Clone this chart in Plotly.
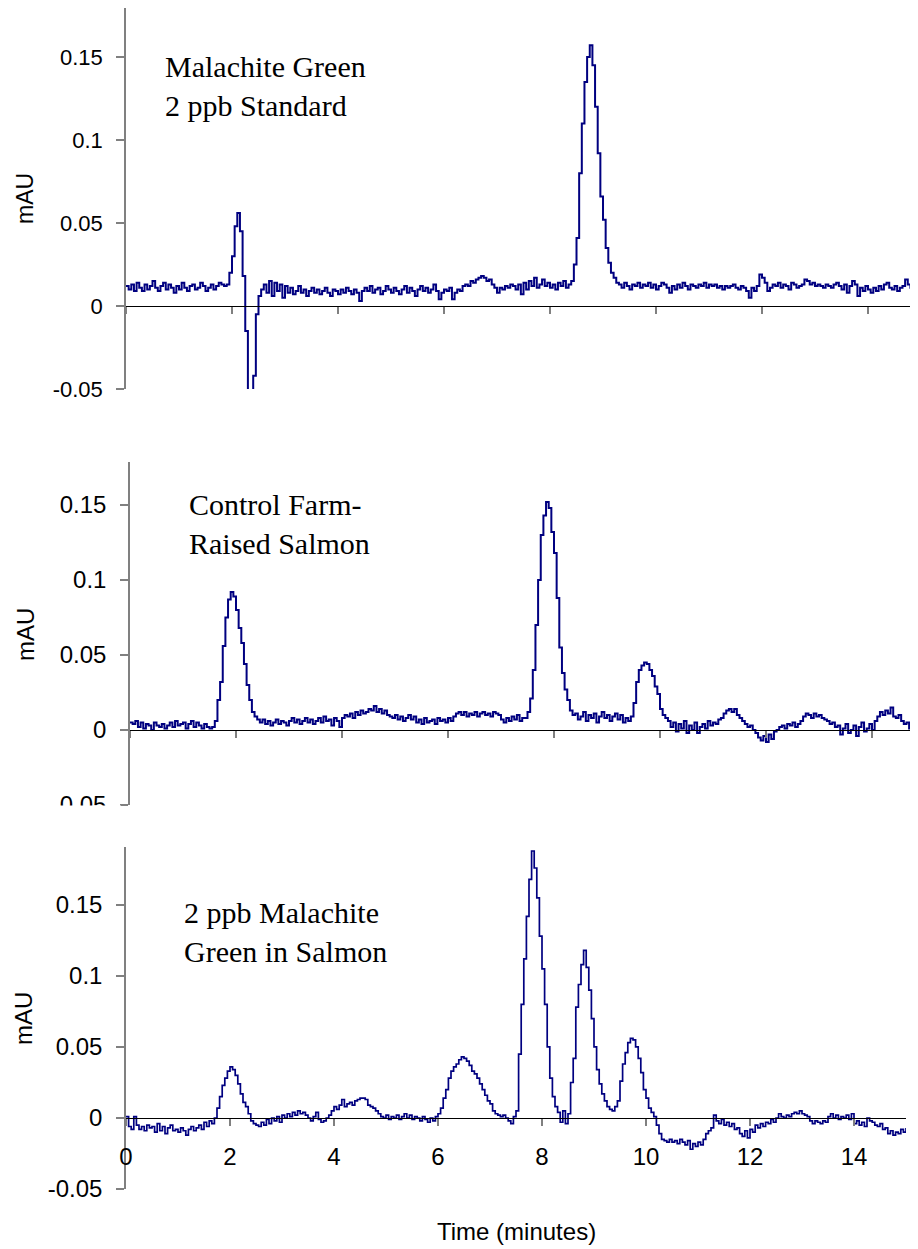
import plotly.graph_objects as go

# ---------------- data (absorbance, in 1/1000 mAU, sampled every 0.05 min) ----------------
SAMPLE_STEP_MIN = 0.05
time_min = [round(i * SAMPLE_STEP_MIN, 2) for i in range(301)]

standard_milli = [
    # t 0.00-1.80 baseline
    12, 10, 13, 9, 14, 11, 9, 13, 10, 12,
    15, 11, 9, 12, 14, 10, 13, 11, 8, 12,
    10, 14, 11, 9, 12, 13, 10, 11, 14, 12,
    9, 11, 13, 10, 12, 14, 13,
    # t 1.85-2.55 solvent front (peak + negative dip)
    12, 13, 20, 30, 48, 56, 45, 18, -15, -60, -65, -42, -5, 6, 10,
    # t 2.60-8.35 baseline
    13, 8, 15, 6, 14, 9, 13, 5, 12,
    8, 11, 7, 9, 12, 8, 10, 6, 9, 11,
    8, 10, 7, 9, 11, 8, 6, 10, 9, 7,
    10, 8, 11, 9, 7, 10, 8, 3, 9, 11,
    9, 12, 8, 10, 11, 7, 9, 12, 10, 8,
    11, 9, 7, 10, 12, 8, 11, 9, 6, 10,
    12, 9, 11, 8, 10, 13, 9, 4, 8, 10,
    9, 11, 4, 8, 10, 9, 12, 13, 12, 15,
    14, 16, 17, 18, 17, 15, 16, 13, 11, 8,
    11, 10, 12, 11, 13, 12, 10, 13, 7, 14,
    10, 15, 12, 17, 11, 13, 16, 12, 14, 11,
    13, 10, 14, 12, 15, 11, 13,
    # t 8.40-9.25 malachite green peak
    15, 25, 41, 80, 110, 135, 150, 157, 145, 120, 92, 66, 52, 35, 26, 20, 17, 14,
    # t 9.30-15.00 baseline
    13, 11, 14, 12, 10, 13, 12, 14, 11, 13,
    12, 14, 11, 13, 10, 12, 14, 13, 11, 8,
    12, 10, 13, 11, 14, 12, 10, 13, 12, 11,
    13, 12, 14, 11, 13, 12, 13, 11, 12, 10,
    12, 11, 12, 13, 11, 10, 12, 11, 9, 5,
    11, 9, 12, 19, 17, 14, 9, 11, 13, 12,
    14, 11, 13, 12, 10, 14, 13, 11, 12, 13,
    16, 15, 13, 14, 12, 13, 12, 11, 13, 12,
    11, 13, 14, 12, 10, 13, 8, 12, 15, 13,
    6, 11, 9, 12, 10, 8, 11, 9, 12, 10,
    13, 14, 11, 10, 12, 9, 11, 12, 16, 13,
    11, 10, 9, 8, 7,
]

control_milli = [
    # t 0.00-1.50 baseline
    5, 4, 6, 2, 5, 1, 4, 3, 0, 5,
    3, 2, 4, 1, 3, 5, 2, 6, 3, 4,
    5, 1, 4, 6, 2, 5, 3, 1, 4, 2,
    1,
    # t 1.55-2.40 peak
    2, 6, 20, 32, 56, 75, 87, 92, 89, 80, 68, 58, 44, 30, 20, 12, 9, 7,
    # t 2.45-7.45 baseline
    5, 7, 4, 6, 3, 5, 7, 4, 6, 5,
    3, 6, 8, 5, 7, 4, 6, 8, 5, 7,
    4, 6, 8, 5, 9, 6, 7, 3, 8, 6,
    2, 8, 10, 9, 11, 8, 12, 10, 13, 11,
    12, 14, 13, 16, 12, 14, 11, 13, 10, 9,
    8, 10, 7, 9, 6, 8, 10, 7, 9, 5,
    7, 4, 8, 5, 6, 7, 4, 8, 6, 7,
    5, 8, 6, 9, 11, 12, 10, 12, 9, 11,
    10, 12, 9, 11, 12, 10, 11, 9, 12, 11,
    10, 7, 5, 8, 6, 9, 7, 10, 6, 8,
    8,
    # t 7.50-8.35 peak
    12, 21, 40, 70, 100, 130, 143, 152, 148, 132, 118, 88, 55, 38, 27, 20, 13, 10,
    # t 8.40-9.45 baseline
    11, 7, 9, 12, 6, 10, 8, 11, 5, 9, 12, 8, 10, 6, 9, 11, 7, 10, 5, 8, 6, 9,
    # t 9.50-10.10 peak
    18, 32, 40, 43, 45, 44, 40, 36, 29, 24, 14, 10, 8,
    # t 10.15-15.00 baseline
    6, 2, 5, -1, 4, 1, 6, -2, 3, 0,
    5, -2, 2, 4, 1, 6, 3, 5, 4, 7,
    8, 11, 13, 14, 12, 14, 10, 8, 6, 4,
    2, 3, 0, -2, -5, -7, -4, -8, -3, -6,
    -1, 0, 2, 3, 1, 4, 3, 5, 2, 4,
    6, 9, 11, 10, 8, 11, 9, 10, 8, 7,
    6, 4, 5, 2, 3, -3, 1, 4, -2, 0,
    3, -4, 2, 5, -1, 1, 4, 0, 6, 9,
    12, 10, 13, 11, 15, 9, 8, 10, 6, 4,
    5, 1, 4, -3, 2, -1, 3, 0,
]

spiked_milli = [
    # t 0.00-1.70 baseline
    1, -6, -8, 1, -5, -8, -6, -9, -5, -7,
    -6, -10, -4, -9, -6, -11, -7, -5, -9, -8,
    -10, -7, -9, -12, -8, -6, -9, -7, -5, -8,
    -3, -6, -2, -4, 0,
    # t 1.75-2.50 peak
    7, 15, 23, 28, 33, 36, 34, 30, 24, 17, 11, 8, 3, -2, -4, -5,
    # t 2.55-3.85 baseline
    -6, -3, -5, -1, -4, 0, -2, 1, -3, 2,
    0, 3, 1, 4, 2, 5, 3, 4, 2, 0,
    -2, 1, 4, -1, -3, -2, 0,
    # t 3.90-4.90 small bump
    2, 5, 8, 6, 9, 13, 8, 10, 11, 9, 12, 13, 14, 14, 13, 9, 8, 7, 5, 3, 1,
    # t 4.95-5.95 baseline
    0, 2, -1, 1, 0, 2, -1, 1, 3, 0, 2, -1, 1, 0, -2, 1, -1, -3, 0, -2, 1,
    # t 6.00-7.45 broad peak
    3, 7, 14, 20, 28, 33, 36, 38, 41, 43,
    42, 40, 37, 33, 31, 28, 24, 20, 16, 12,
    10, 5, 3, 2, 1, 2, 0, -2, -4, 1,
    # t 7.50-8.50 peak
    5, 45, 80, 112, 142, 168, 188, 176, 155, 128, 105, 80, 50, 28, 15, 8, 4, -3, 5, -4, 3,
    # t 8.55-9.45 malachite green peak
    25, 42, 78, 94, 108, 118, 106, 90, 70, 50, 34, 24, 17, 12, 8, 6, 5, 8, 12,
    # t 9.50-10.30 peak
    26, 38, 46, 53, 56, 55, 50, 42, 32, 20, 14, 7, 4, 1, -5, -11, -15,
    # t 10.35-15.00 baseline
    -16, -17, -15, -17, -16, -18, -15, -17, -19, -16,
    -22, -18, -20, -17, -19, -15, -11, -9, -7, 2,
    -2, -4, -1, -5, -3, -6, -4, -8, -7, -11,
    -13, -9, -14, -8, -10, -5, -7, -4, -6, -3,
    -4, -1, -3, 0, 3, 1, 0, 2, 1, 3,
    4, 3, 5, 3, 2, 1, -2, -4, -2, -3,
    -4, -2, -3, 1, 3, 0, 2, -1, 1, 0,
    2, -1, 3, -4, -2, -5, -3, -6, 0, -2,
    -3, -5, -6, -4, -8, -7, -11, -9, -12, -10,
    -11, -8, -10, -7,
]

for name, arr in [("standard", standard_milli), ("control", control_milli), ("spiked", spiked_milli)]:
    assert len(arr) == len(time_min), (name, len(arr))

standard = [v / 1000 for v in standard_milli]
control = [v / 1000 for v in control_milli]
spiked = [v / 1000 for v in spiked_milli]

panel_labels = ["Malachite Green<br>2 ppb Standard",
                "Control Farm-<br>Raised Salmon",
                "2 ppb Malachite<br>Green in Salmon"]
y_tick_vals = [-0.05, 0, 0.05, 0.1, 0.15]
y_tick_text = ["-0.05", "0", "0.05", "0.1", "0.15"]
x_tick_vals = [0, 2, 4, 6, 8, 10, 12, 14]
x_tick_text = ["0", "2", "4", "6", "8", "10", "12", "14"]
y_title = "mAU"
x_title = "Time (minutes)"

# ---------------- layout geometry ----------------
# The page body keeps the browser's default 8px margin, so the figure is drawn
# 8px right/down of the window corner; positions below are window pixels.
PAGE_W, PAGE_H = 918, 1249
BODY_MARGIN = 8
W, H = PAGE_W - BODY_MARGIN, PAGE_H - BODY_MARGIN
def fx(px):
    return (px - BODY_MARGIN) / W
def fy(px):
    return (H - (px - BODY_MARGIN)) / H

panels = [
    dict(y=standard, xdom=[fx(126), 1.0], xr=[0, 14.943], ydom=[fy(389), fy(8)], yr=[-0.05, 0.1795],
         tick_size=22, title_size=23, title_xy=(25, 199), label_xy=(163, 86), width=2.0, xlabels=False),
    dict(y=control, xdom=[fx(130), 1.0], xr=[0, 14.868], ydom=[fy(805), fy(462)], yr=[-0.05, 0.1787],
         tick_size=24, title_size=24, title_xy=(25, 635), label_xy=(187, 524), width=2.0, xlabels=False),
    dict(y=spiked, xdom=[fx(126), fx(906)], xr=[0, 15], ydom=[fy(1189), fy(847)], yr=[-0.05, 0.1908],
         tick_size=24, title_size=24, title_xy=(23, 1019), label_xy=(182, 932), width=1.7, xlabels=True),
]

SANS = "Liberation Sans, Arial, sans-serif"
SERIF = "Liberation Serif, Times New Roman, serif"
LINE_COLOR = "#000080"

fig = go.Figure()
layout = dict(
    width=W, height=H, margin=dict(l=0, r=0, t=0, b=0, pad=0, autoexpand=False),
    paper_bgcolor="white", plot_bgcolor="white", showlegend=False,
    font=dict(family=SANS, color="black"),
)
annotations = []
for k, p in enumerate(panels, start=1):
    sfx = "" if k == 1 else str(k)
    fig.add_trace(go.Scatter(x=time_min, y=p["y"], mode="lines", line=dict(color=LINE_COLOR, width=p["width"], shape="hv"),
                             xaxis="x" + sfx, yaxis="y" + sfx, hoverinfo="skip"))
    d0, d1 = p["ydom"]
    r0, r1 = p["yr"]
    zero_pos = d0 + (0 - r0) / (r1 - r0) * (d1 - d0)
    layout["xaxis" + sfx] = dict(
        domain=p["xdom"], range=p["xr"], anchor="free", position=zero_pos,
        showline=True, linecolor="black", linewidth=1,
        ticks="outside", ticklen=7, tickwidth=1.5, tickcolor="#808080",
        tickvals=x_tick_vals, ticktext=x_tick_text, showticklabels=p["xlabels"],
        tickfont=dict(size=p["tick_size"], family=SANS, color="black"), ticklabelstandoff=10,
        showgrid=False, zeroline=False, fixedrange=True, automargin=False,
    )
    layout["yaxis" + sfx] = dict(
        domain=p["ydom"], range=p["yr"], anchor="x" + sfx,
        showline=True, linecolor="#808080", linewidth=1.5,
        ticks="outside", ticklen=8, tickwidth=1.5, tickcolor="#808080",
        tickvals=y_tick_vals, ticktext=y_tick_text,
        tickfont=dict(size=p["tick_size"], family=SANS, color="black"), ticklabelstandoff=9,
        showgrid=False, zeroline=False, fixedrange=True, automargin=False,
    )
    tx, ty = p["title_xy"]
    annotations.append(dict(text=y_title, x=fx(tx), y=fy(ty), xref="paper", yref="paper", showarrow=False,
                            textangle=-90, xanchor="center", yanchor="middle",
                            font=dict(size=p["title_size"], family=SANS, color="black")))
    lx, ly = p["label_xy"]
    annotations.append(dict(text=panel_labels[k - 1], x=fx(lx), y=fy(ly), xref="paper", yref="paper",
                            showarrow=False, xanchor="left", yanchor="middle", align="left",
                            font=dict(size=30, family=SERIF, color="black")))

annotations.append(dict(text=x_title, x=fx(516), y=fy(1231), xref="paper", yref="paper", showarrow=False,
                        xanchor="center", yanchor="middle", font=dict(size=24, family=SANS, color="black")))
layout["annotations"] = annotations
# the middle chart's lowest tick label is cut off in the original picture
layout["shapes"] = [dict(type="rect", xref="paper", yref="paper", x0=0, x1=fx(121), y0=fy(846), y1=fy(805.5),
                         fillcolor="white", line=dict(width=0), layer="above")]
fig.update_layout(**layout)
fig.write_html("out.html")
